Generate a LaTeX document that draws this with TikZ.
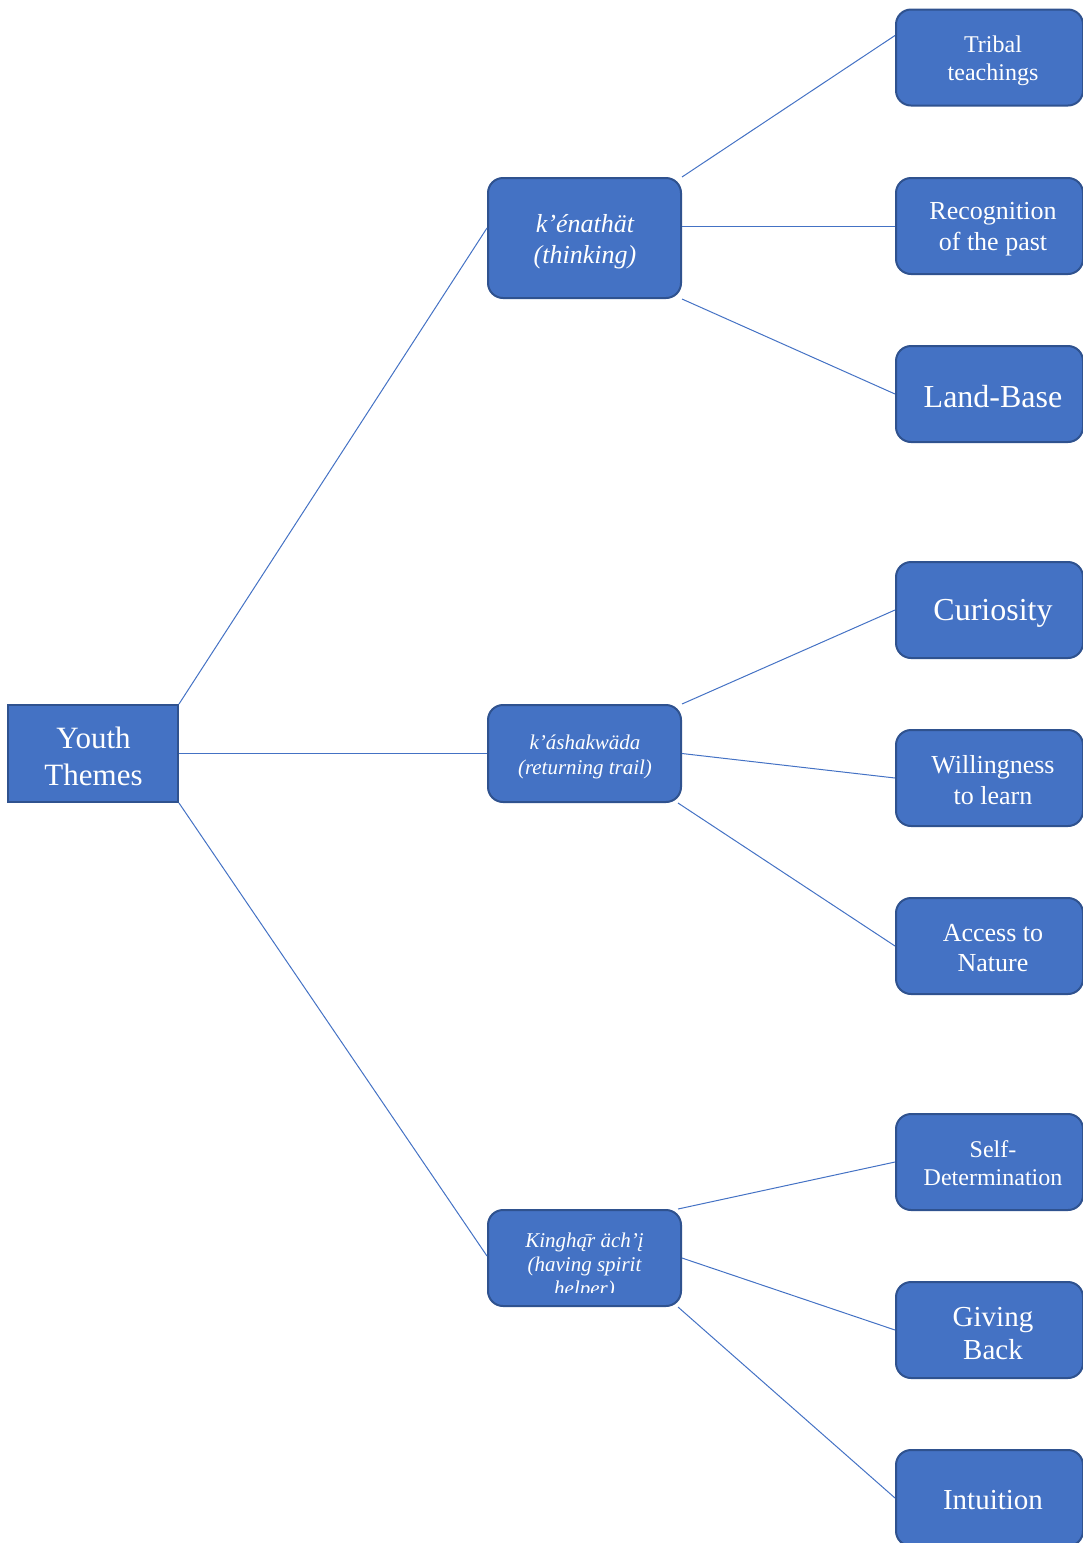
\documentclass[tikz,border=0pt]{standalone}
\usepackage{fontspec}
\setmainfont{Liberation Serif}
\definecolor{boxfill}{HTML}{4472C4}
\definecolor{boxline}{HTML}{2F528F}
\begin{document}
\begin{tikzpicture}[x=1pt,y=-1pt,
  base/.style={draw=boxline, fill=boxfill, line width=2pt, inner sep=0pt},
  lbl/.style={text=white, align=center, inner sep=0pt},
  rootbox/.style={base, minimum width=170pt, minimum height=97pt},
  midbox/.style={base, rounded corners=15pt, minimum width=193pt},
  leafbox/.style={base, rounded corners=15pt, minimum width=187pt, minimum height=96pt},
  link/.style={draw=boxfill, line width=1pt},
  fs/.style 2 args={font=\fontsize{#1}{#2}\selectfont}]
\useasboundingbox (0,0) rectangle (1083,1543);

% root
\node[rootbox] (root) at (93,753.5) {};
\node[lbl, fs={31}{37}] (roott) at ([shift={(0.5,2.5)}]root.center) {Youth\\Themes};

% middle
\node[midbox, minimum height=120pt] (m1) at (584.5,238) {};
\node[lbl, fs={26}{31}] (m1t) at ([shift={(0.5,3.5)}]m1.center) {\itshape k’énathät\\\itshape (thinking)};
\node[midbox, minimum height=97pt] (m2) at (584.5,753.5) {};
\node[lbl, fs={21}{25}] (m2t) at ([shift={(0.5,3.5)}]m2.center) {\itshape k’áshakwäda\\\itshape (returning trail)};
\node[midbox, minimum height=96pt] (m3) at (584.5,1258) {};
\begin{scope}
  \clip (490,1212) rectangle (679,1292);
  \node[lbl, fs={21}{24}] (m3t) at (584.5,1266.5)
    {\itshape Kingh\={ą}r äch’į\\\itshape (having spirit\\\itshape helper)};
\end{scope}

% leaves
\node[leafbox] (l1) at (989.5,57.5) {};
\node[leafbox] (l2) at (989.5,226) {};
\node[leafbox] (l3) at (989.5,394) {};
\node[leafbox] (l4) at (989.5,610) {};
\node[leafbox] (l5) at (989.5,778) {};
\node[leafbox] (l6) at (989.5,946) {};
\node[leafbox] (l7) at (989.5,1162) {};
\node[leafbox] (l8) at (989.5,1330) {};
\node[leafbox] (l9) at (989.5,1498) {};

\node[lbl, fs={24}{28}] (l1t) at ([shift={(3.5,3.5)}]l1.center) {Tribal\\teachings};
\node[lbl, fs={26}{31}] (l2t) at ([shift={(3.5,3.5)}]l2.center) {Recognition\\of the past};
\node[lbl, fs={32}{36}] (l3t) at ([shift={(3.5,2.5)}]l3.center) {Land-Base};
\node[lbl, fs={32}{36}] (l4t) at ([shift={(3.5,3.5)}]l4.center) {Curiosity};
\node[lbl, fs={26}{31}] (l5t) at ([shift={(3.5,2)}]l5.center) {Willingness\\to learn};
\node[lbl, fs={26}{30}] (l6t) at ([shift={(3.5,2)}]l6.center) {Access to\\Nature};
\node[lbl, fs={24}{28}] (l7t) at ([shift={(3.5,1.5)}]l7.center) {Self-\\Determination};
\node[lbl, fs={29}{33}] (l8t) at ([shift={(3.5,3.5)}]l8.center) {Giving\\Back};
\node[lbl, fs={29}{33}] (l9t) at ([shift={(3.5,2)}]l9.center) {Intuition};

% connectors
\draw[link] (root.north east) -- ([yshift=10pt]m1.west);
\draw[link] (root.east) -- (m2.west);
\draw[link] (root.south east) -- ([yshift=2pt]m3.west);

\draw[link] (m1.north east) -- ([yshift=22pt]l1.west);
\draw[link] (m1.east |- l2.west) -- (l2.west);
\draw[link] (m1.south east) -- (l3.west);

\draw[link] (m2.north east) -- (l4.west);
\draw[link] (m2.east) -- (l5.west);
\draw[link] ([xshift=-4pt]m2.south east) -- (l6.west);

\draw[link] ([xshift=-4pt]m3.north east) -- (l7.west);
\draw[link] (m3.east) -- (l8.west);
\draw[link] ([xshift=-4pt]m3.south east) -- (l9.west);
\end{tikzpicture}
\end{document}
